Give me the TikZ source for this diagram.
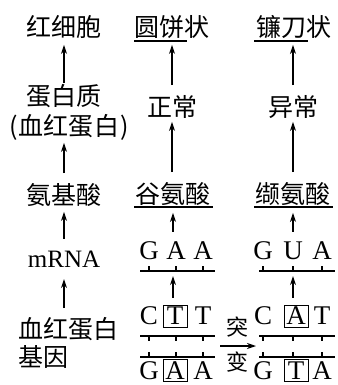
\documentclass[tikz,border=0pt]{standalone}
\usepackage{fontspec}
\setmainfont{Liberation Serif}
\newfontfamily\cjk{Noto Sans CJK SC}
\usetikzlibrary{arrows.meta}
\begin{document}
\begin{tikzpicture}[x=1pt,y=-1pt,
  cj/.style={font=\cjk\fontsize{25}{25}\selectfont,inner sep=0pt,text height=21pt,text depth=2.5pt},
  cjs/.style={font=\cjk\fontsize{22}{22}\selectfont,inner sep=0pt,text height=18.5pt,text depth=2pt},
  lt/.style={font=\fontsize{27}{27}\selectfont,inner sep=0pt,text height=17.8pt,text depth=0pt},
  boxed/.style={lt,draw,line width=1pt,minimum width=24pt,minimum height=22pt},
  arr/.style={line width=1.1pt,-{Stealth[length=9pt,width=6pt]}},
  ln/.style={line width=1.1pt}]
\useasboundingbox (0,0) rectangle (337,385);
% column 1
\node[cj] (rbc) at (64,27) {红细胞};
\node[cj] (prot) at (64,96) {蛋白质};
\node[cj] (hb) at (69,126) {(\kern1pt血红蛋白\kern1pt)};
\node[cj] (aa) at (64,195) {氨基酸};
\node[lt,font=\fontsize{25}{25}\selectfont] (mrna) at (64,259) {mRNA};
\node[cj,anchor=west] (gene) at (18,329) {血红蛋白};
\node[cj,anchor=west] (gene2) at (18,357) {基因};
% column 2
\node[cj] (round) at (172,27) {圆饼状};
\node[cj] (norm) at (172,107) {正常};
\node[cj] (glu) at (173,194) {谷氨酸};
\node[lt] (g1) at (149,251) {G};
\node[lt] (a1) at (176,251) {A};
\node[lt] (a2) at (203,251) {A};
\node[lt] (c1) at (149,316) {C};
\node[boxed] (t1) at (175,316) {T};
\node[lt] (t2) at (203,316) {T};
\node[lt] (g2) at (149,370.5) {G};
\node[boxed] (a3) at (175,370.5) {A};
\node[lt] (a4) at (203,370.5) {A};
% column 3
\node[cj] (sickle) at (294,27) {镰刀状};
\node[cj] (abn) at (293,107) {异常};
\node[cj] (val) at (293,194) {缬氨酸};
\node[lt] (g3) at (263,251) {G};
\node[lt] (u3) at (293,251) {U};
\node[lt] (a5) at (322,251) {A};
\node[lt] (c3) at (263,316) {C};
\node[boxed] (a6) at (296,316) {A};
\node[lt] (t3) at (322,316) {T};
\node[lt] (g4) at (263,370.5) {G};
\node[boxed] (t4) at (296,370.5) {T};
\node[lt] (a7) at (322,370.5) {A};
% mutation
\node[cjs] (tu) at (237,327) {突};
\node[cjs] (bian) at (237,362) {变};
\coordinate (mutS) at (220,346);
\coordinate (mutE) at (256,346);
\draw[arr] (mutS) -- (mutE);
% underlines
\draw[ln] (134,41) -- (187,41);
\draw[ln] (254,41) -- (308,41);
\draw[ln] (134,207) -- (213,207);
\draw[ln] (254,207) -- (333,207);
% strands column 2
\draw[ln] (140,271) -- (215,271);
\foreach \x in {149,176,203} \draw[ln] (\x,266) -- (\x,271);
\draw[ln] (140,336) -- (215,336);
\foreach \x in {149,176,203} \draw[ln] (\x,336) -- (\x,341);
\draw[ln] (140,357) -- (215,357);
\foreach \x in {149,176,203} \draw[ln] (\x,352) -- (\x,357);
% strands column 3
\draw[ln] (259,271) -- (335,271);
\foreach \x in {263,293,322} \draw[ln] (\x,266) -- (\x,271);
\draw[ln] (259,336) -- (335,336);
\foreach \x in {263,293,322} \draw[ln] (\x,336) -- (\x,341);
\draw[ln] (259,357) -- (335,357);
\foreach \x in {263,293,322} \draw[ln] (\x,352) -- (\x,357);
% arrows column 1
\draw[arr,shorten <=1pt,shorten >=6pt] (prot.north) -- (rbc.south);
\draw[arr,shorten <=10pt,shorten >=5pt] (aa.north) -- (hb.south -| aa.north);
\draw[arr,shorten <=11pt,shorten >=5pt] (mrna.north) -- (aa.south);
\draw[arr,shorten <=9pt,shorten >=11pt] (gene.north -| mrna.south) -- (mrna.south);
% arrows column 2
\draw[arr,shorten <=10pt,shorten >=6pt] (norm.north) -- (round.south);
\draw[arr,shorten <=10pt,shorten >=3pt] (glu.north -| norm.south) -- (norm.south);
\draw[arr,shorten <=10pt,shorten >=7pt] (glu.south |- a1.north) -- (glu.south);
\draw[arr,shorten <=7pt,shorten >=16pt] (t1.north -| glu.south) -- (a1.south -| glu.south);
% arrows column 3
\draw[arr,shorten <=10pt,shorten >=6pt] (abn.north) -- (sickle.south -| abn.north);
\draw[arr,shorten <=10pt,shorten >=3pt] (val.north) -- (abn.south);
\draw[arr,shorten <=10pt,shorten >=7pt] (val.south |- u3.north) -- (val.south);
\draw[arr,shorten <=7pt,shorten >=16pt] (a6.north -| val.south) -- (u3.south -| val.south);
\end{tikzpicture}
\end{document}
